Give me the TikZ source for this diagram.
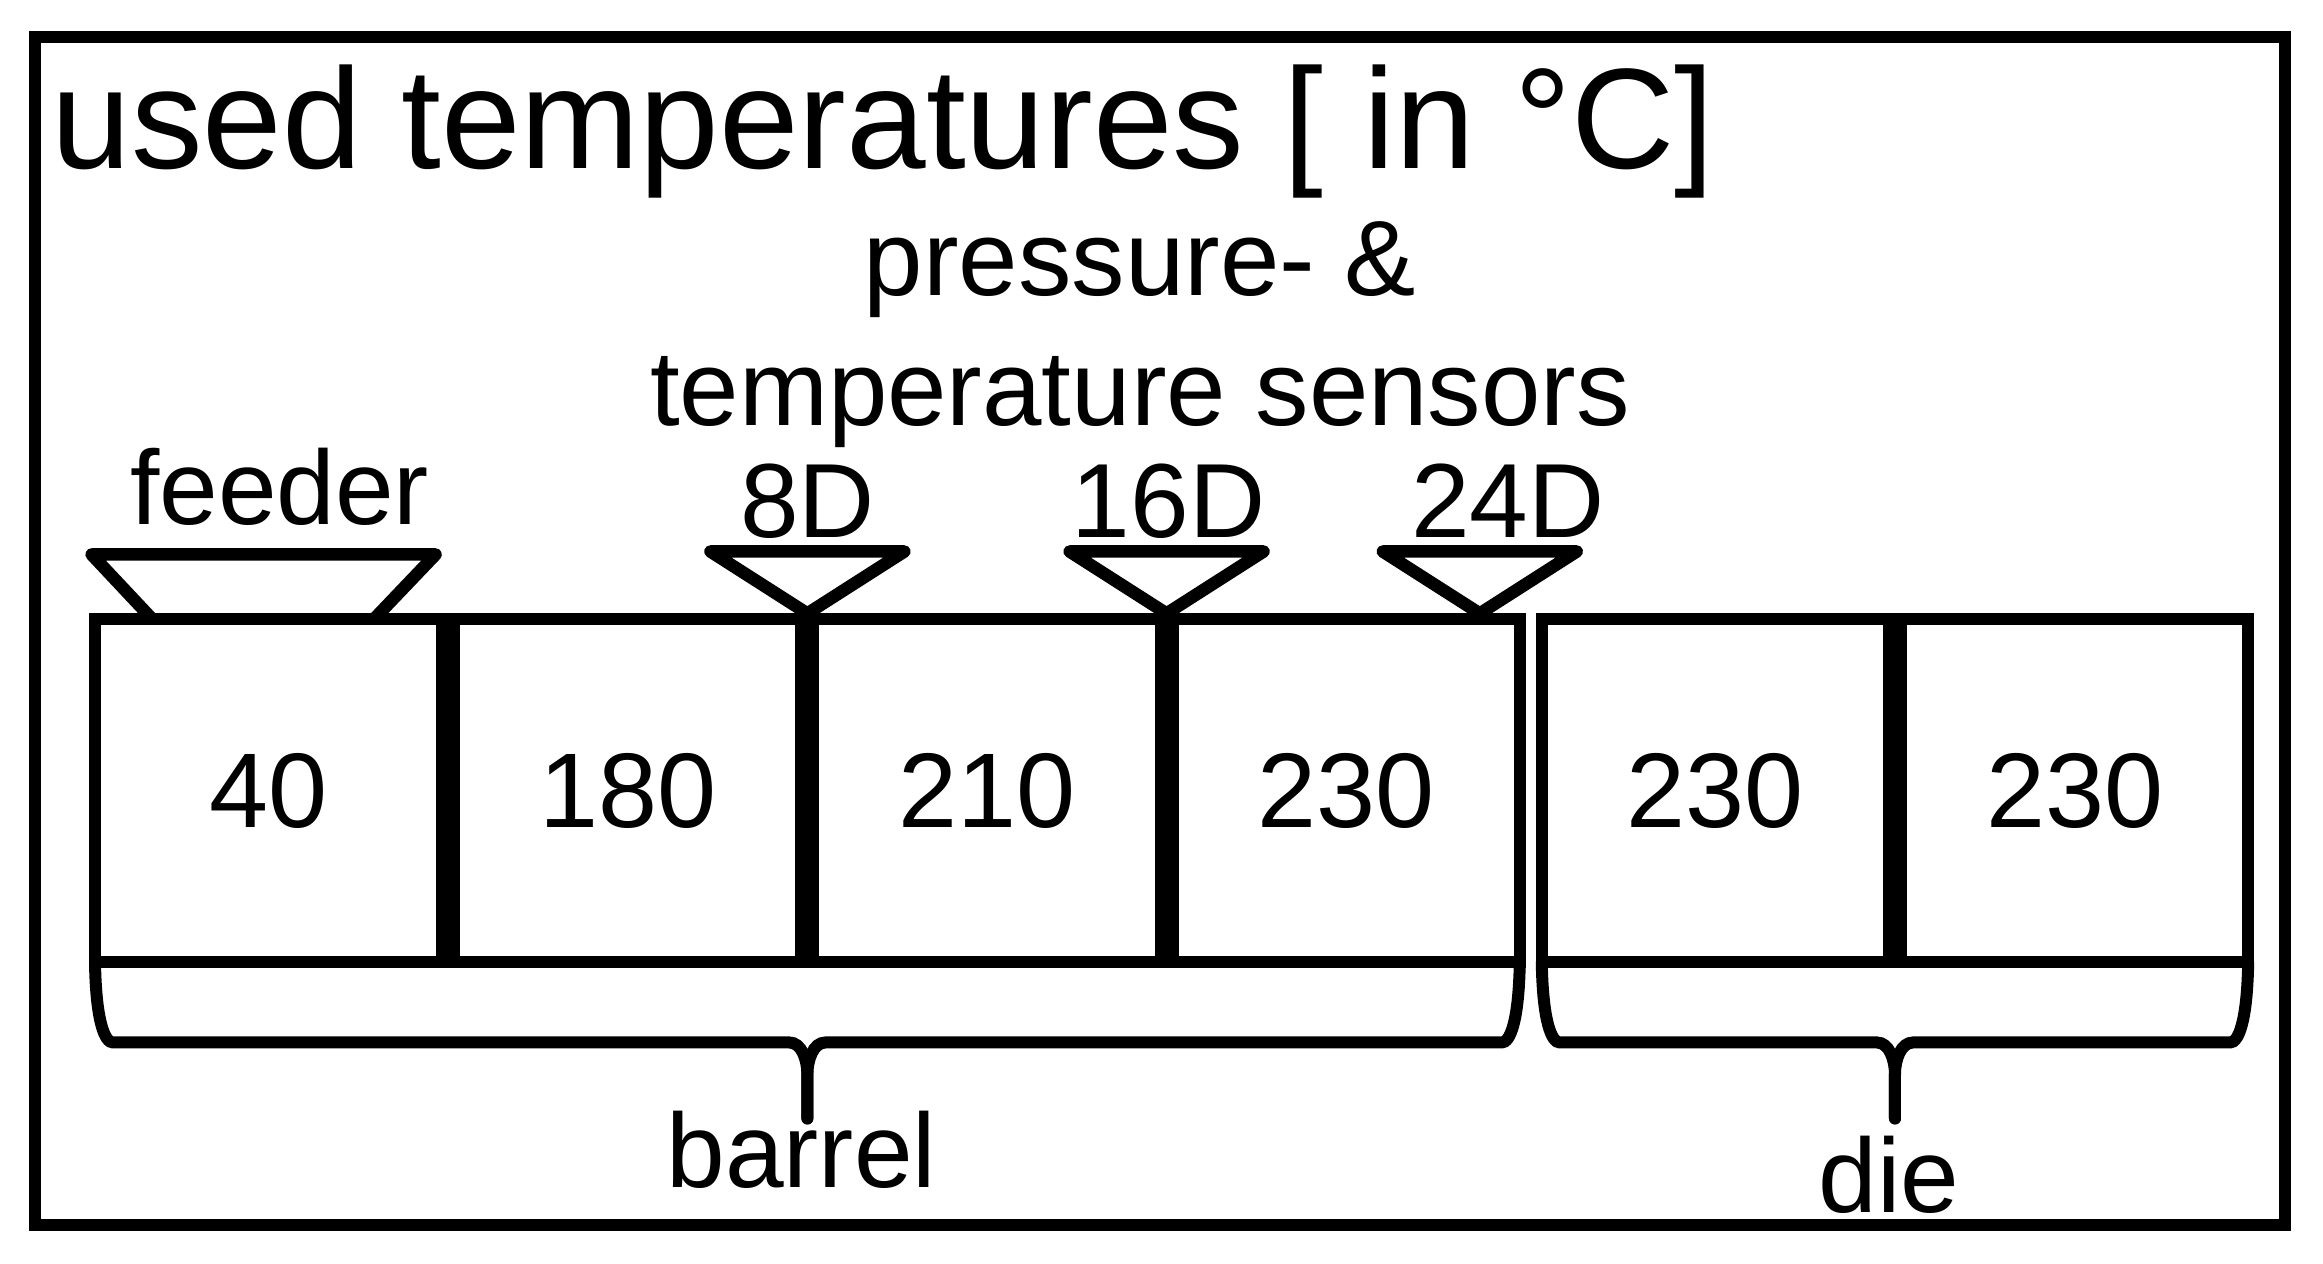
\documentclass[tikz,border=0pt]{standalone}
\usepackage{fontspec}
\setmainfont{Liberation Sans}
\usetikzlibrary{positioning, calc}

\begin{document}
\begin{tikzpicture}[x=0.1mm, y=-0.1mm,
    frame/.style={draw, line width=1.2mm},
    cell/.style={rectangle, draw, line width=1.2mm, minimum width=34.72mm, minimum height=34.3mm, inner sep=0pt, outer sep=0pt, font=\fontsize{30.2}{36}\selectfont},
    lab/.style={inner sep=0pt, anchor=base, font=\fontsize{30}{36}\selectfont},
    head/.style={inner sep=0pt, anchor=base, font=\fontsize{30.4}{37}\selectfont},
    sensor/.style={draw, line width=1.25mm, line join=round},
    brace/.style={draw, line width=1.2mm, line cap=round},
    node distance=1.2mm
]
\useasboundingbox (0,0) rectangle (2323,1264);
\draw[frame] (35,37) rectangle (2285,1225);

\node[inner sep=0pt, anchor=base west, font=\fontsize{40.7}{49}\selectfont] (title) at (51,169) {used temperatures [ in °C]};
\node[head] (head1) at (1140,296) {pressure- \&};
\node[head] (head2) at (1140,426) {temperature sensors};

\node[cell, anchor=north west] (b1) at (95,619.5) {40};
\node[cell, right=of b1] (b2) {180};
\node[cell, right=of b2] (b3) {210};
\node[cell, right=of b3] (b4) {230};
\node[cell, right=2.2mm of b4] (d1) {230};
\node[cell, right=of d1] (d2) {230};

% feeder
\draw[sensor] ($(b1.north)+(-116,0)$) -- ($(b1.north)+(-177,-65)$) -- ($(b1.north)+(167,-65)$) -- ($(b1.north)+(105,0)$);
\node[lab] (feeder) at ($(b1.north)+(11,-95)$) {feeder};

% sensors
\coordinate (s8) at ($(b2.north east)!0.5!(b3.north west)$);
\coordinate (s16) at ($(b3.north east)!0.5!(b4.north west)$);
\coordinate (s24) at ($(b4.north east)+(-40,0)$);

\foreach \sen/\txt/\dx in {s8/8D/0, s16/16D/2, s24/24D/28} {
    \draw[sensor] ($(\sen)+(0,-6)$) -- ($(\sen)+(-97,-68)$) -- ($(\sen)+(97,-68)$) -- cycle;
    \node[lab] (\sen-lab) at ($(\sen)+(\dx,-82)$) {\txt};
}

% braces
\foreach \lcell/\rcell/\txt/\dy in {b1/b4/barrel/225, d1/d2/die/250} {
    \coordinate (\txt-mid) at ($(\lcell.south west)!0.5!(\rcell.south east)$);
    \draw[brace] (\lcell.south west) .. controls +(1,60) and +(-8,0) .. ($(\lcell.south west)+(18,80)$) -- ($(\txt-mid)+(-18,80)$) .. controls +(12,0) and +(0,-15) .. ($(\txt-mid)+(0,112)$) -- ($(\txt-mid)+(0,156)$);
    \draw[brace] (\rcell.south east) .. controls +(-1,60) and +(8,0) .. ($(\rcell.south east)+(-18,80)$) -- ($(\txt-mid)+(18,80)$) .. controls +(-12,0) and +(0,-15) .. ($(\txt-mid)+(0,112)$) -- ($(\txt-mid)+(0,156)$);
    \node[lab] (\txt) at ($(\txt-mid)+(-6,\dy)$) {\txt};
}

\end{tikzpicture}
\end{document}
